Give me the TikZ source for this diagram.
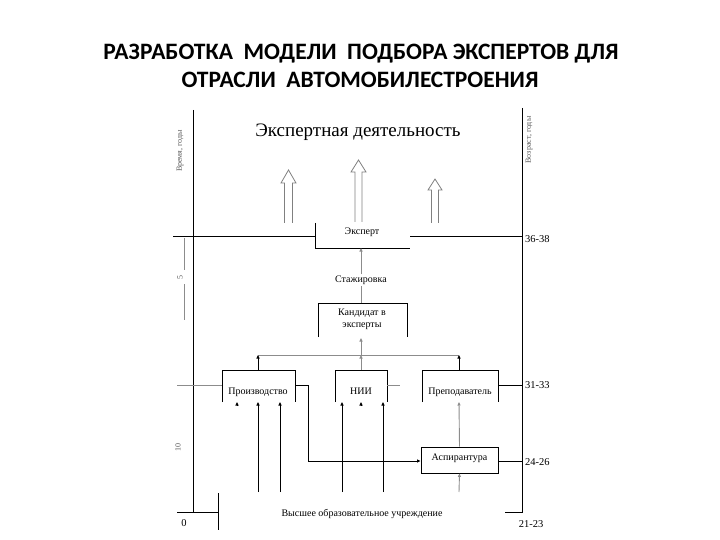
\documentclass[tikz,border=0pt]{standalone}
\usepackage{fontspec}
\setmainfont{Liberation Serif}
\newfontfamily\titlefont{Carlito}
\usetikzlibrary{arrows.meta}
\begin{document}
\begin{tikzpicture}[x=1pt,y=-1pt,
  ln/.style={line width=0.9pt,black},
  gln/.style={line width=0.9pt,black!45},
  tipa/.style={-{Triangle[length=3.5pt,width=3pt]}},
  lbl/.style={font=\fontsize{10}{11}\selectfont, inner sep=1pt},
  numl/.style={font=\fontsize{10.5}{11}\selectfont, inner sep=0pt, anchor=west},
  rotl/.style={font=\fontsize{8}{9}\selectfont, rotate=90, inner sep=0pt, text=black!65},
  hol/.style={line width=0.8pt, black!50},
  ttl/.style={font=\titlefont\bfseries\fontsize{23.5}{28}\selectfont, anchor=base, inner sep=0pt}]
\useasboundingbox (0,0) rectangle (720,540);

% title
\node[ttl] (t1) at (361,60) {РАЗРАБОТКА\ \ МОДЕЛИ\ \ ПОДБОРА ЭКСПЕРТОВ ДЛЯ};
\node[ttl] (t2) at (360,88) {ОТРАСЛИ\ \ АВТОМОБИЛЕСТРОЕНИЯ};

% axes
\coordinate (la) at (193,110);
\coordinate (lb) at (193,512);
\coordinate (lc) at (177,512);
\coordinate (ld) at (218,512);
\coordinate (ra) at (522,108);
\coordinate (rb) at (522,512);
\coordinate (rc) at (505,512);
\draw[ln] (la) -- (lb);
\draw[ln] (lc) -- (ld);
\draw[ln] (218,493) -- (218,530);
\draw[ln] (ra) -- (rb) -- (rc);

\node[rotl] (time) at (180,151) {Время, годы};
\node[rotl] (age) at (529,140) {Возраст, годы};

% heading
\node[font=\fontsize{19}{21}\selectfont, inner sep=0pt] (act) at (358,132) {Экспертная деятельность};

% hollow arrows
\draw[hol] (284.5,223) -- (284.5,183) -- (281,183) -- (288.5,170) -- (296,183) -- (292.5,183) -- (292.5,223);
\draw[hol] (355,222) -- (355,172) -- (351,172) -- (358.5,160) -- (366,172) -- (362,172) -- (362,222);
\draw[hol] (431.5,223) -- (431.5,190) -- (428,190) -- (435,179) -- (442,190) -- (438.5,190) -- (438.5,223);

% Expert
\node[lbl] (eksp) at (362,232) {Эксперт};
\coordinate (e1) at (315,223);
\coordinate (e2) at (315,248);
\coordinate (e3) at (410,248);
\draw[ln] (e1) -- (e2) -- (e3);
\draw[ln] (173,236) -- (315,236);
\draw[ln] (410,236) -- (522,236);
\coordinate (ebot) at (361,248);
\node[numl] (n36) at (525,239) {36-38};

% scale 5 and 10
\draw[gln, line width=0.6pt] (184,238) -- (184,270);
\draw[gln, line width=0.6pt] (184,284) -- (184,320);
\node[rotl] (five) at (180,277) {5};
\node[rotl] (ten) at (178,447) {10};

% Stazhirovka
\node[lbl] (stazh) at (361,280) {Стажировка};
% Candidate
\draw[ln] (318,337) -- (318,303) -- (407,303) -- (407,337);
\node[lbl, align=center, font=\fontsize{10}{12}\selectfont] (kand) at (362,319) {Кандидат в\\эксперты};
\coordinate (ktop) at (361,303);
\coordinate (kbot) at (361,338);
\draw[gln] (ktop) -- (stazh);
\draw[gln, tipa] (stazh) -- (ebot);

% junction line
\coordinate (j1) at (258,355);
\coordinate (j2) at (361,355);
\coordinate (j3) at (459,355);
\draw[gln] (j1) -- (j3);
\draw[gln, tipa] (j2) -- (kbot);

% row of boxes
\draw[ln] (222,402) -- (222,370) -- (295,370) -- (295,402);
\node[lbl, anchor=base] (proizv) at (258,394) {Производство};
\draw[ln] (335,402) -- (335,370) -- (387,370) -- (387,402);
\node[lbl, anchor=base] (nii) at (361,394) {НИИ};
\draw[ln] (422,402) -- (422,370) -- (498,370) -- (498,402);
\node[lbl, anchor=base] (prep) at (460,394) {Преподаватель};

\coordinate (p1) at (258,370);
\coordinate (p2) at (361,370);
\coordinate (p3) at (459,370);
\draw[ln, tipa] (p1) -- (j1);
\draw[gln, tipa] (p2) -- (j2);
\draw[ln, tipa] (p3) -- (j3);

\draw[gln] (177,385) -- (222,385);
\draw[gln] (387,385) -- (400,385);
\draw[ln] (498,385) -- (522,385);
\node[numl] (n31) at (525,385) {31-33};

% Aspirantura
\node[draw, line width=0.9pt, minimum width=77pt, minimum height=26pt, inner sep=0pt] (asp) at (459.5,460) {};
\node[lbl] (asptxt) at (459.5,458) {Аспирантура};
\coordinate (q1) at (295,385);
\coordinate (q2) at (308,385);
\coordinate (q3) at (308,461);
\draw[ln, tipa] (q1) -- (q2) -- (q3) -- (asp.west |- q3);
\draw[ln] (asp.east |- q3) -- (522,461);
\node[numl] (n24) at (525,462) {24-26};
\draw[gln, tipa] (asp.north) -- (459,402);
\draw[gln, tipa] (459,492) -- (asp.south);

% arrows from below into boxes
\draw[ln, tipa] (237,406) -- (237,402);
\draw[ln, tipa] (258,492) -- (258,402);
\draw[ln, tipa] (280,492) -- (280,402);
\draw[ln, tipa] (342,492) -- (342,402);
\draw[ln, tipa] (361,406) -- (361,402);
\draw[ln, tipa] (383,492) -- (383,402);

% bottom
\node[lbl] (vuz) at (362,514) {Высшее образовательное учреждение};
\node[numl, anchor=center] (n0) at (184,523) {0};
\node[numl, anchor=center] (n21) at (531,524) {21-23};
\end{tikzpicture}
\end{document}
